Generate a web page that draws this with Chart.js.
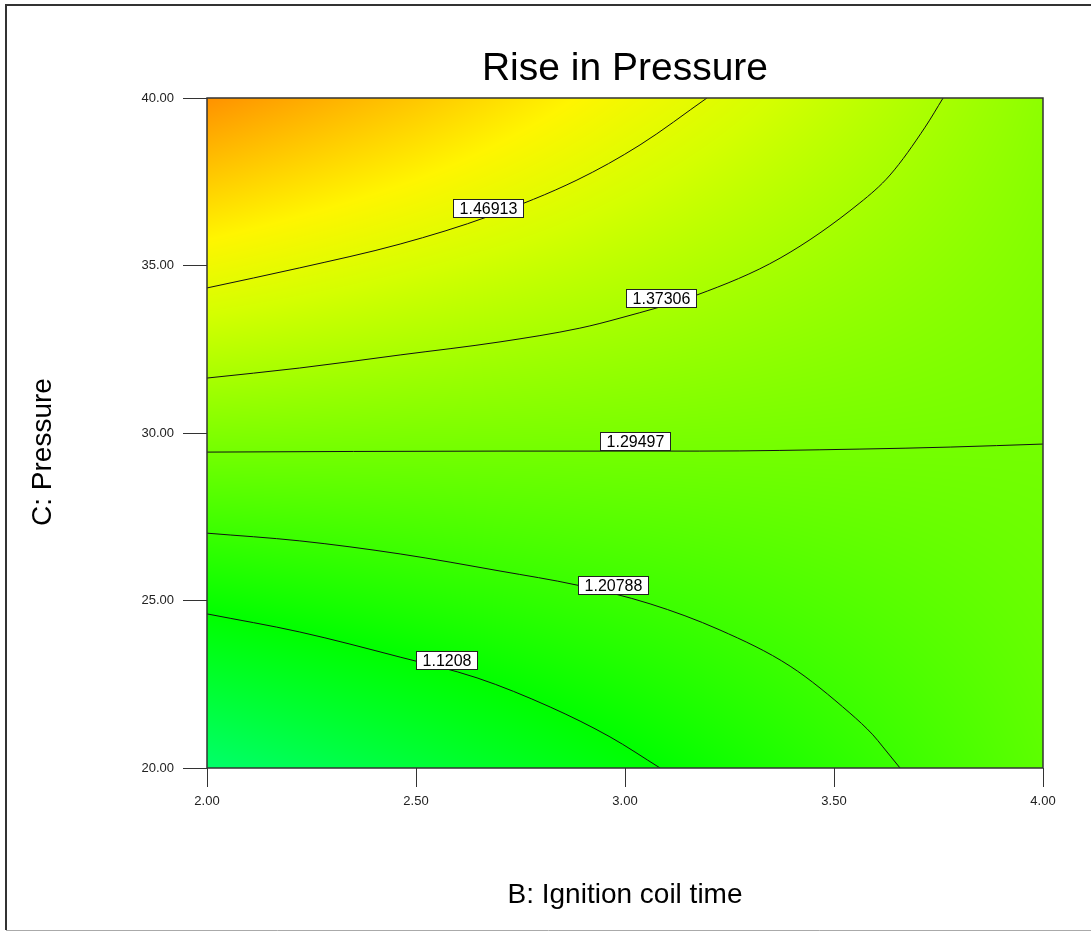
<!DOCTYPE html>
<html>
<head>
<meta charset="utf-8">
<title>Rise in Pressure</title>
<script src="https://cdn.jsdelivr.net/npm/chart.js@4.4.1/dist/chart.umd.min.js"></script>
<style>
    html, body { margin: 0; padding: 0; background: #fff; }
    canvas { display: block; }
</style>
</head>
<body>
<canvas id="contour" width="1091" height="932"></canvas>
<script>
const FONT = '"Liberation Sans", Arial, sans-serif';

// axes: B = ignition coil time, C = pressure
const xTicks = [2.0, 2.5, 3.0, 3.5, 4.0];
const yTicks = [20, 25, 30, 35, 40];

// predicted rise on the tick grid, one row per C value (20 -> 40)
const gridB = [2.0, 2.5, 3.0, 3.5, 4.0];
const gridC = [20, 25, 30, 35, 40];
const gridRise = [
    [0.960, 1.032, 1.107, 1.184, 1.259],
    [1.135, 1.172, 1.207, 1.243, 1.278],
    [1.315, 1.309, 1.306, 1.301, 1.296],
    [1.493, 1.447, 1.403, 1.359, 1.315],
    [1.670, 1.590, 1.499, 1.417, 1.333]
];

// colour ramp for the response
const rampValue = [0.96, 1.04, 1.12, 1.20, 1.28, 1.36, 1.44, 1.52, 1.60, 1.68];
const rampColor = ["#00ff6a", "#00ff35", "#00ff00", "#35ff00", "#6aff00",
                   "#9fff00", "#d4ff00", "#fff500", "#ffc000", "#ff8b00"];

// contour lines
const levels = ["1.46913", "1.37306", "1.29497", "1.20788", "1.1208"];

const c146913B = [2.000, 2.222, 2.462, 2.677, 2.885, 3.036, 3.196];
const c146913C = [34.33, 34.93, 35.64, 36.48, 37.55, 38.60, 40.00];

const c137306B = [2.000, 2.222, 2.462, 2.701, 2.892, 2.988, 3.172, 3.371, 3.562, 3.634, 3.718, 3.761];
const c137306C = [31.64, 31.94, 32.33, 32.72, 33.13, 33.43, 34.12, 35.22, 36.87, 37.70, 39.13, 40.00];

const c129497B = [2.000, 2.701, 3.179, 3.562, 3.778, 4.000];
const c129497C = [29.43, 29.46, 29.46, 29.52, 29.58, 29.67];

const c120788B = [2.000, 2.222, 2.462, 2.701, 2.885, 3.060, 3.227, 3.395, 3.538, 3.593, 3.617, 3.658];
const c120788C = [27.01, 26.78, 26.39, 25.88, 25.46, 24.90, 24.12, 23.04, 21.64, 20.99, 20.63, 20.00];

const c11208B = [2.000, 2.222, 2.462, 2.646, 2.821, 2.964, 3.084];
const c11208C = [24.60, 24.06, 23.31, 22.69, 21.82, 20.93, 20.00];

// where each level's tag sits
const labelB = [2.672, 3.085, 3.024, 2.972, 2.573];
const labelC = [36.73, 34.03, 29.76, 25.45, 23.21];

const lineB = [c146913B, c137306B, c129497B, c120788B, c11208B];
const lineC = [c146913C, c137306C, c129497C, c120788C, c11208C];

const hexRgb = (h) => [1, 3, 5].map(i => parseInt(h.substr(i, 2), 16));
const rampRgb = rampColor.map(hexRgb);

const colourFor = (v) => {
    if (v <= rampValue[0]) return rampRgb[0];
    const n = rampValue.length - 1;
    if (v >= rampValue[n]) return rampRgb[n];
    let k = 0;
    while (v > rampValue[k + 1]) k++;
    const t = (v - rampValue[k]) / (rampValue[k + 1] - rampValue[k]);
    const a = rampRgb[k], b = rampRgb[k + 1];
    return [0, 1, 2].map(i => a[i] + (b[i] - a[i]) * t);
};

const cellIndex = (arr, v) => {
    let k = 0;
    while (k < arr.length - 2 && v > arr[k + 1]) k++;
    return k;
};

const riseAt = (b, c) => {
    const i = cellIndex(gridB, b), j = cellIndex(gridC, c);
    const tx = (b - gridB[i]) / (gridB[i + 1] - gridB[i]);
    const ty = (c - gridC[j]) / (gridC[j + 1] - gridC[j]);
    const z00 = gridRise[j][i], z10 = gridRise[j][i + 1];
    const z01 = gridRise[j + 1][i], z11 = gridRise[j + 1][i + 1];
    return (z00 * (1 - tx) + z10 * tx) * (1 - ty) + (z01 * (1 - tx) + z11 * tx) * ty;
};

// paints the response field under the contour lines
const surfacePlugin = {
    id: "surface",
    beforeDraw(chart) {
        const ctx = chart.ctx;
        ctx.save();
        ctx.fillStyle = "#fff";
        ctx.fillRect(0, 0, chart.width, chart.height);
        ctx.restore();
    },
    beforeDatasetsDraw(chart) {
        const {ctx, chartArea: area, scales} = chart;
        const w = Math.round(area.right - area.left);
        const h = Math.round(area.bottom - area.top);
        const off = document.createElement("canvas");
        off.width = w;
        off.height = h;
        const octx = off.getContext("2d");
        const img = octx.createImageData(w, h);
        for (let py = 0; py < h; py++) {
            const c = scales.y.getValueForPixel(area.top + py + 0.5);
            for (let px = 0; px < w; px++) {
                const b = scales.x.getValueForPixel(area.left + px + 0.5);
                const rgb = colourFor(riseAt(b, c));
                const p = (py * w + px) * 4;
                img.data[p] = rgb[0];
                img.data[p + 1] = rgb[1];
                img.data[p + 2] = rgb[2];
                img.data[p + 3] = 255;
            }
        }
        octx.putImageData(img, 0, 0);
        ctx.drawImage(off, Math.round(area.left), Math.round(area.top));
    },
    afterDatasetsDraw(chart) {
        const {ctx, chartArea: area, scales} = chart;
        ctx.save();
        // level tags
        ctx.font = "16px " + FONT;
        ctx.textAlign = "center";
        ctx.textBaseline = "middle";
        levels.forEach((t, i) => {
            const cx = scales.x.getPixelForValue(labelB[i]);
            const cy = scales.y.getPixelForValue(labelC[i]);
            const w = Math.round(ctx.measureText(t).width + 12);
            const h = 18;
            const x0 = Math.round(cx - w / 2) + 0.5;
            const y0 = Math.round(cy - h / 2) + 0.5;
            ctx.fillStyle = "#fff";
            ctx.fillRect(x0, y0, w, h);
            ctx.strokeStyle = "#222";
            ctx.lineWidth = 1;
            ctx.strokeRect(x0, y0, w, h);
            ctx.fillStyle = "#000";
            ctx.fillText(t, x0 + w / 2, y0 + h / 2 + 1);
        });
        // plot frame
        ctx.strokeStyle = "#333";
        ctx.lineWidth = 1.5;
        ctx.strokeRect(Math.round(area.left), Math.round(area.top),
            Math.round(area.right - area.left), Math.round(area.bottom - area.top));
        ctx.restore();
    },
    afterDraw(chart) {
        const ctx = chart.ctx;
        ctx.save();
        // vertical axis title
        ctx.font = "28px " + FONT;
        ctx.fillStyle = "#000";
        ctx.textAlign = "center";
        ctx.textBaseline = "middle";
        ctx.translate(43, 452);
        ctx.rotate(-Math.PI / 2);
        ctx.fillText("C: Pressure", 0, 0);
        ctx.restore();

        // outer frame
        ctx.save();
        ctx.strokeStyle = "#333";
        ctx.lineWidth = 2;
        ctx.beginPath();
        ctx.moveTo(6, 930);
        ctx.lineTo(6, 5);
        ctx.lineTo(chart.width, 5);
        ctx.stroke();
        ctx.strokeStyle = "#aaa";
        ctx.lineWidth = 1;
        ctx.beginPath();
        ctx.moveTo(6, 930.5);
        ctx.lineTo(chart.width, 930.5);
        ctx.stroke();
        ctx.restore();
    }
};

const datasets = levels.map((lvl, i) => ({
    label: lvl,
    data: lineB[i].map((b, k) => ({x: b, y: lineC[i][k]})),
    showLine: true,
    borderColor: "#111",
    borderWidth: 1,
    pointRadius: 0,
    cubicInterpolationMode: "monotone",
    fill: false
}));

const tickFont = {family: FONT, size: 13};

new Chart(document.getElementById("contour"), {
    type: "scatter",
    data: {datasets},
    options: {
        responsive: false,
        animation: false,
        events: [],
        layout: {padding: {left: 0, right: 48, top: 0, bottom: 0}},
        plugins: {
            legend: {display: false},
            tooltip: {enabled: false},
            title: {
                display: true,
                fullSize: false,
                text: "Rise in Pressure",
                color: "#000",
                font: {family: FONT, size: 39, weight: "normal"},
                padding: {top: 46, bottom: 5.2}
            }
        },
        scales: {
            x: {
                type: "linear",
                min: 2,
                max: 4,
                afterBuildTicks: (s) => { s.ticks = xTicks.map(v => ({value: v})); },
                afterFit: (s) => { s.height = 164; },
                ticks: {
                    callback: (v) => Number(v).toFixed(2),
                    color: "#222",
                    font: tickFont,
                    padding: 7,
                    maxRotation: 0,
                    autoSkip: false
                },
                grid: {drawOnChartArea: false, tickLength: 19, color: "#333"},
                border: {display: false},
                title: {
                    display: true,
                    text: "B: Ignition coil time",
                    color: "#000",
                    font: {family: FONT, size: 28},
                    padding: {top: 0, bottom: 20}
                }
            },
            y: {
                type: "linear",
                min: 20,
                max: 40,
                afterBuildTicks: (s) => { s.ticks = yTicks.map(v => ({value: v})); },
                afterFit: (s) => { s.width = 207; },
                ticks: {
                    callback: (v) => Number(v).toFixed(2),
                    color: "#222",
                    font: tickFont,
                    padding: 9,
                    autoSkip: false
                },
                grid: {drawOnChartArea: false, tickLength: 24, color: "#333"},
                border: {display: false}
            }
        }
    },
    plugins: [surfacePlugin]
});
</script>
</body>
</html>
